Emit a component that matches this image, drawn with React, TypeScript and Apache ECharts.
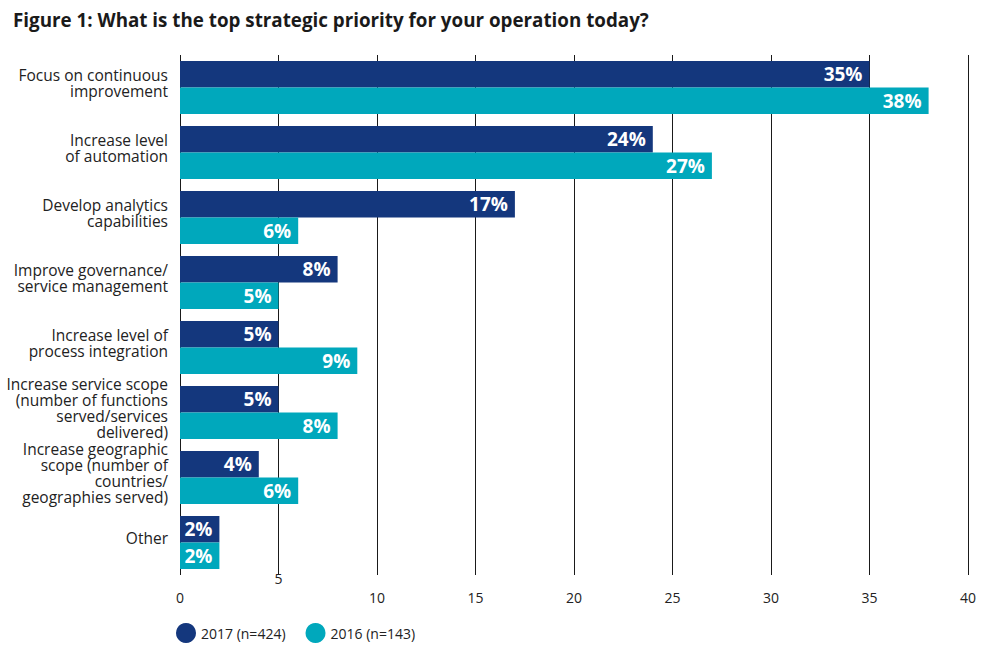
import React, { useEffect, useRef } from "react";
import * as echarts from "echarts";

const categories = [
  "Focus on continuous\nimprovement",
  "Increase level\nof automation",
  "Develop analytics\ncapabilities",
  "Improve governance/\nservice management",
  "Increase level of\nprocess integration",
  "Increase service scope\n(number of functions\nserved/services\ndelivered)",
  "Increase geographic\nscope (number of\ncountries/\ngeographies served)",
  "Other",
];
const values2017 = [35, 24, 17, 8, 5, 5, 4, 2];
const values2016 = [38, 27, 6, 5, 9, 8, 6, 2];
const seriesNames = ["2017 (n=424)", "2016 (n=143)"];
const titleText = "Figure 1: What is the top strategic priority for your operation today?";

const FONT = "'Open Sans', 'Noto Sans', sans-serif";

export default function App() {
  const ref = useRef<HTMLDivElement>(null);
  useEffect(() => {
    const chart = echarts.init(ref.current!, null, { renderer: "svg" });
    const label = {
      show: true,
      position: "insideRight",
      distance: 7,
      color: "#ffffff",
      fontFamily: FONT,
      fontWeight: "bold",
      fontSize: 19,
      formatter: (p: any) => p.value + "%",
    };
    chart.setOption({
      animation: false,
      backgroundColor: "#ffffff",
      title: {
        text: titleText,
        left: 8,
        top: 5,
        textStyle: { fontFamily: FONT, fontWeight: "bold", fontSize: 18.8, color: "#1a1a1a" },
      },
      legend: {
        left: 171,
        top: 618,
        icon: "circle",
        itemWidth: 20,
        itemHeight: 20,
        itemGap: 20,
        textStyle: { fontFamily: FONT, fontSize: 14, color: "#222222" },
        data: seriesNames,
      },
      grid: { left: 180, top: 55, width: 788, height: 520 },
      xAxis: [
        {
          type: "value",
          min: 0,
          max: 40,
          interval: 5,
          axisLine: { show: false },
          axisTick: { show: false },
          splitLine: { show: true, lineStyle: { color: "#1a1a1a", width: 1 } },
          axisLabel: {
            margin: 15,
            fontFamily: FONT,
            fontSize: 14,
            color: "#222222",
            formatter: (v: number) => (v === 5 ? "" : String(v)),
          },
        },
        {
          type: "value",
          position: "bottom",
          offset: -19,
          min: 0,
          max: 40,
          interval: 5,
          axisLine: { show: false },
          axisTick: { show: false },
          splitLine: { show: false },
          axisLabel: {
            margin: 15,
            fontFamily: FONT,
            fontSize: 14,
            color: "#222222",
            formatter: (v: number) => (v === 5 ? "5" : ""),
          },
        },
      ],
      yAxis: {
        type: "category",
        data: categories,
        inverse: true,
        axisLine: { show: false },
        axisTick: { show: false },
        axisLabel: {
          margin: 12,
          fontFamily: FONT,
          fontSize: 15.5,
          lineHeight: 16,
          color: "#222222",
          align: "right",
          formatter: (v: string) => v + "\n{gap|}",
          rich: { gap: { lineHeight: 10, fontSize: 1 } },
        },
      },
      series: [
        {
          name: seriesNames[0],
          type: "bar",
          xAxisIndex: 0,
          data: values2017,
          barWidth: 26.5,
          barGap: "0%",
          itemStyle: { color: "#14377d" },
          label,
        },
        {
          name: seriesNames[1],
          type: "bar",
          xAxisIndex: 0,
          data: values2016,
          barWidth: 26.5,
          barGap: "0%",
          itemStyle: { color: "#00a8bc" },
          label,
        },
      ],
    });
    return () => chart.dispose();
  }, []);
  return (
    <div
      ref={ref}
      style={{ position: "fixed", left: 0, top: 0, width: 989, height: 663 }}
    />
  );
}
